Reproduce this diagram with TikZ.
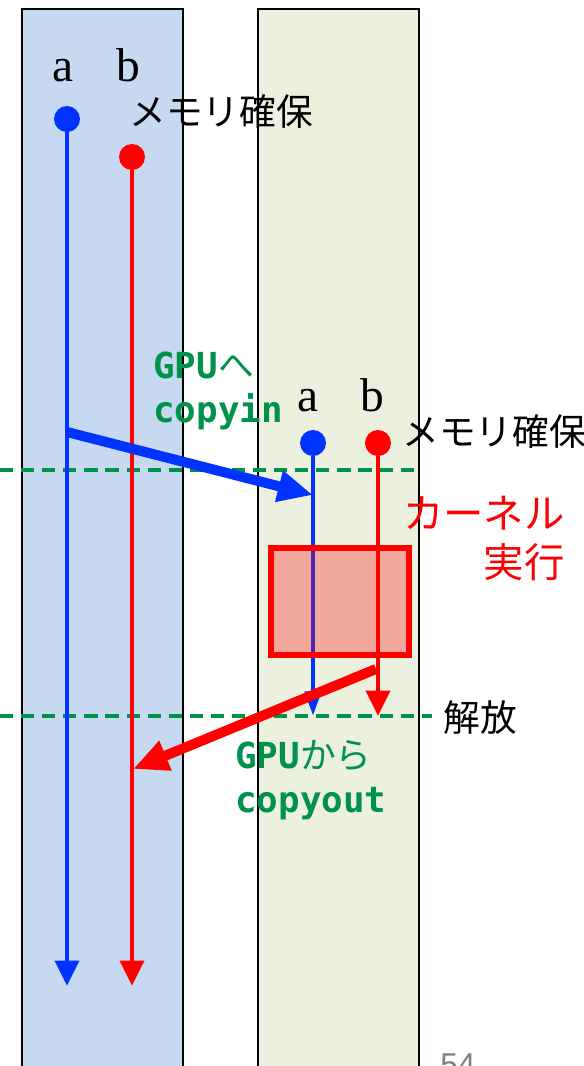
\documentclass[tikz,border=0pt]{standalone}
\usepackage{fontspec}
\setmainfont{Liberation Serif}
\newfontfamily\jpfont{Noto Sans CJK JP}
\newfontfamily\codefont{DejaVu Sans Mono}
\newfontfamily\pagefont{Liberation Sans}
\usetikzlibrary{arrows.meta}
\definecolor{hostfill}{RGB}{198,217,240}
\definecolor{devfill}{RGB}{235,241,222}
\definecolor{vblue}{RGB}{0,51,255}
\definecolor{vred}{RGB}{255,0,0}
\definecolor{vgreen}{RGB}{0,145,75}
\tikzstyle{column} = [draw=black, line width=1.1pt]
\tikzstyle{dota} = [circle, fill=vblue, inner sep=0pt, minimum size=0.52cm]
\tikzstyle{dotb} = [circle, fill=vred, inner sep=0pt, minimum size=0.52cm]
\tikzstyle{varname} = [anchor=base, inner sep=0pt, font=\fontsize{27}{27}\selectfont]
\tikzstyle{jplabel} = [anchor=west, inner sep=0pt, font=\jpfont\fontsize{20.9}{24}\selectfont]
\tikzstyle{copylabel} = [anchor=base west, inner sep=0pt, text=vgreen, align=left, font=\codefont\bfseries\fontsize{20.4}{25}\selectfont]
\tikzstyle{sync} = [vgreen, line width=2.3pt, dash pattern=on 7.5pt off 4.5pt]
\tikzstyle{life} = [line width=2.8pt, -{Triangle[width=13.5pt, length=14.5pt]}]
\tikzstyle{transfer} = [line width=5.7pt, -{Triangle[width=17pt, length=20pt]}]
\tikzstyle{kernel} = [rectangle, draw=vred, line width=3.4pt, fill=vred, fill opacity=0.3, minimum width=2.76cm, minimum height=2.14cm, inner sep=0pt]

\begin{document}
\begin{tikzpicture}[x=0.02cm, y=-0.02cm]
	\useasboundingbox (0,0) rectangle (584,1066);
	% host and device memory
	\draw [column, fill=hostfill] (22,1067) -- (22,9) -- (183,9) -- (183,1067);
	\draw [column, fill=devfill] (258,1067) -- (258,9) -- (419,9) -- (419,1067);
	
	\draw [sync] (0,470) -- (419,470);
	\draw [sync] (0,716) -- (432,716);
	
	% host side
	\node (hostAname) [varname] at (63,81) {a};
	\node (hostBname) [varname] at (128,81) {b};
	\node (hostA) [dota] at (67,119) {};
	\node (hostB) [dotb] at (132,157) {};
	\node (hostAlloc) [jplabel] at (129,112) {メモリ確保};
	\coordinate (hostAend) at (67,986);
	\coordinate (hostBend) at (132,986);
	\draw [life, vblue] (hostA) -- (hostAend);
	\draw [life, vred] (hostB) -- (hostBend);
	
	% device side
	\node (devAname) [varname] at (308,411) {a};
	\node (devBname) [varname] at (372,411) {b};
	\node (devA) [dota] at (313,443) {};
	\node (devB) [dotb] at (378,443) {};
	\node (devAlloc) [jplabel] at (402,432) {メモリ確保};
	\node (free) [jplabel] at (443,718) {解放};
	\coordinate (devAend) at (313,716);
	\coordinate (devBend) at (378,716);
	\draw [vblue, line width=2.8pt, -{Triangle[width=9pt, length=14pt]}] (devA) -- (devAend);
	\draw [life, vred] (devB) -- (devBend);
	
	\node (kernel) [kernel] at (340,601.5) {};
	\node (kernelname) [anchor=north east, inner sep=0pt, text=vred, align=right, font=\jpfont\fontsize{23}{28}\selectfont] at (565,496) {カーネル\\実行};
	
	% transfers
	\coordinate (copyinFrom) at (67,432);
	\coordinate (copyinTo) at (313,495);
	\coordinate (copyoutFrom) at (376,669);
	\coordinate (copyoutTo) at (133,769);
	\draw [transfer, vblue] (copyinFrom) -- (copyinTo);
	\draw [transfer, vred] (copyoutFrom) -- (copyoutTo);
	\node (copyin) [copylabel] at (153,422) {GPU{\jpfont\mdseries へ}\\copyin};
	\node (copyout) [copylabel] at (235,812) {GPU{\jpfont\mdseries から}\\copyout};
	
	\node (page) [anchor=north west, inner sep=0pt, text=gray, font=\pagefont\fontsize{18}{18}\selectfont] at (440,1053) {54};
\end{tikzpicture}
\end{document}
